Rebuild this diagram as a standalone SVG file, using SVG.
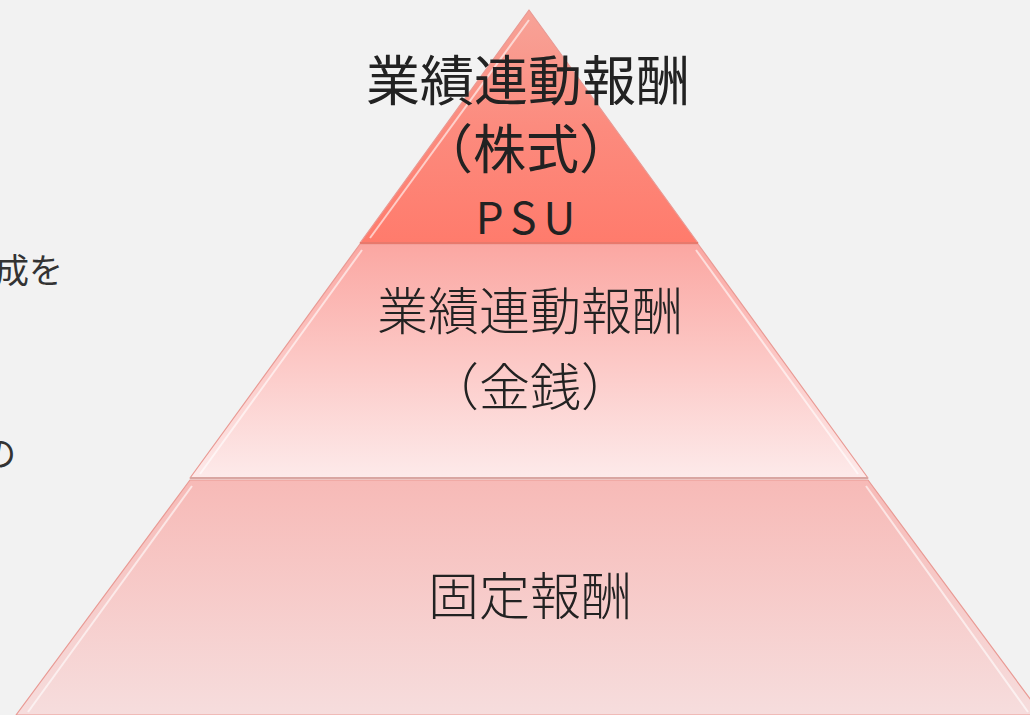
<svg xmlns="http://www.w3.org/2000/svg" width="1030" height="715" viewBox="0 0 1030 715">
<defs>
<linearGradient id="g1" x1="0" y1="0" x2="0" y2="1">
<stop offset="0" stop-color="#f7a398"/>
<stop offset="0.5" stop-color="#fc8b7e"/>
<stop offset="1" stop-color="#ff7b6c"/>
</linearGradient>
<linearGradient id="g2" x1="0" y1="0" x2="0" y2="1">
<stop offset="0" stop-color="#fba7a2"/>
<stop offset="1" stop-color="#fdeaea"/>
</linearGradient>
<linearGradient id="g3" x1="0" y1="0" x2="0" y2="1">
<stop offset="0" stop-color="#f7bab7"/>
<stop offset="1" stop-color="#f6dddd"/>
</linearGradient>
<style>
.jp{font-family:"Noto Sans CJK JP","Noto Sans",sans-serif;fill:#222;text-anchor:middle}
.side{font-family:"Noto Sans CJK JP","Noto Sans",sans-serif;fill:#333;font-size:34px}
.edge{stroke:#e99a94;stroke-width:1.2;stroke-linejoin:round}
.hl{fill:none;stroke:#ffffff;stroke-opacity:0.6;stroke-width:2}
</style>
</defs>
<rect width="1030" height="715" fill="#f2f2f2"/>
<text class="side" x="-5" y="283">成を</text>
<text class="side" x="-18" y="466">の</text>
<g id="tier-bottom">
<polygon class="edge" points="190,480 868,480 1042,715 16,715" fill="url(#g3)"/>
<polyline class="hl" points="28,712 192,486"/>
<polyline class="hl" points="1028,712 866,486" stroke-opacity="0.35"/>
<text class="jp" x="530" y="615" font-size="51" font-weight="300">固定報酬</text>
</g>
<g id="tier-middle">
<polygon class="edge" points="360,244 698,244 868,478 190,478" fill="url(#g2)"/>
<polyline class="hl" points="200,474 362,250"/>
<polyline class="hl" points="858,474 696,250" stroke-opacity="0.5"/>
<line x1="190" y1="478" x2="868" y2="478" stroke="#d9a6a2" stroke-width="2"/>
<text class="jp" x="530" y="330" font-size="51" font-weight="300">業績連動報酬</text>
<text class="jp" x="530" y="406" font-size="51" font-weight="300">（金銭）</text>
</g>
<g id="tier-top">
<polygon class="edge" points="529,10 698,243 360,243" fill="url(#g1)"/>
<polyline class="hl" points="370,238 529,20" stroke-opacity="0.35"/>
<line x1="360" y1="243" x2="698" y2="243" stroke="#e8796c" stroke-width="2"/>
<text class="jp" x="528" y="101" font-size="54" font-weight="400">業績連動報酬</text>
<text class="jp" x="526" y="169" font-size="53" font-weight="400">（株式）</text>
<text class="jp" x="529" y="234" font-size="44" font-weight="400" letter-spacing="7">PSU</text>
</g>
</svg>
